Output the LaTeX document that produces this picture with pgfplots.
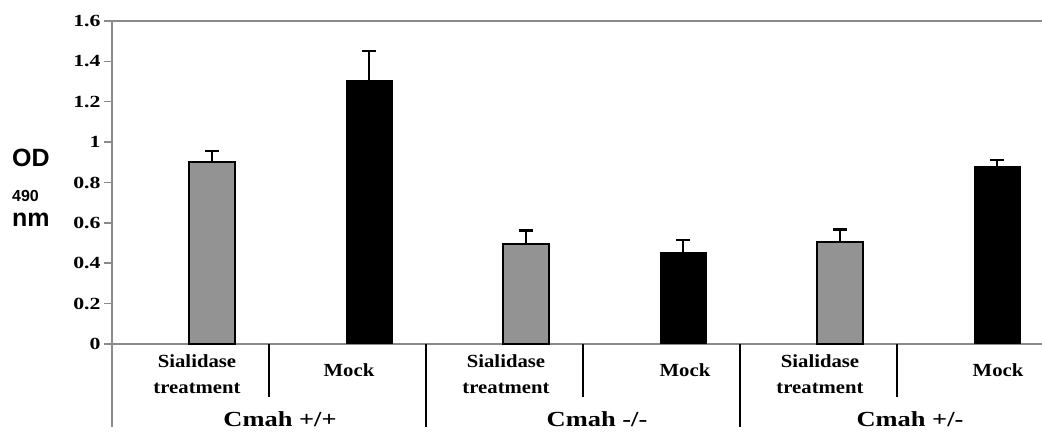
\documentclass[border=0pt]{standalone}
\usepackage{pgfplots}
\pgfplotsset{compat=1.18}
\usepackage{fontspec}
\setmainfont{Liberation Serif}
\newfontfamily\tickfam[FakeStretch=1.28]{Liberation Serif Bold}
\newfontfamily\catfam[FakeStretch=1.12]{Liberation Serif Bold}
\newfontfamily\grpfam[FakeStretch=1.23]{Liberation Serif Bold}
\newfontfamily\sansbold{Liberation Sans Bold}
\definecolor{bargray}{RGB}{147,147,147}
\definecolor{axisgray}{RGB}{138,138,138}

\pgfplotstableread{
x y e
0.137 0.900 0.055
2.137 0.495 0.066
4.137 0.506 0.062
}\graydata
\pgfplotstableread{
x y e
1.137 1.307 0.145
3.137 0.454 0.061
5.137 0.878 0.033
}\blackdata

\begin{document}
\begin{tikzpicture}[x=1bp,y=1bp]
\begin{axis}[
  at={(112bp,96bp)}, anchor=south west,
  scale only axis, width=942bp, height=323bp,
  xmin=-0.5, xmax=5.5, ymin=0, ymax=1.6,
  axis lines*=left,
  axis line style={draw=axisgray, line width=2.2bp},
  xtick=\empty,
  ytick={0,0.2,0.4,0.6,0.8,1,1.2,1.4,1.6},
  tick align=outside, major tick length=8bp,
  ytick style={draw=axisgray, line width=1.5bp},
  yticklabel style={font=\tickfam\fontsize{17bp}{20bp}\selectfont, /pgf/number format/assume math mode=true, /pgf/number format/fixed},
  clip=false,
]
\addplot[ybar, bar width=0.293, bar shift=0pt, fill=bargray, draw=black, line width=2.2bp,
  error bars/.cd, y dir=plus, y explicit,
  error bar style={black, line width=2.5bp},
  error mark options={rotate=90, black, mark size=7bp, line width=2.5bp}]
  table[x=x, y=y, y error=e] {\graydata};
\addplot[ybar, bar width=0.293, bar shift=0pt, fill=black, draw=black, line width=1bp,
  error bars/.cd, y dir=plus, y explicit,
  error bar style={black, line width=2.5bp},
  error mark options={rotate=90, black, mark size=7bp, line width=2.5bp}]
  table[x=x, y=y, y error=e] {\blackdata};
\end{axis}
% frame extensions
\draw[axisgray, line width=2.2bp] (112,419) -- (1042,419);
\draw[axisgray, line width=2.2bp] (112,96) -- (112,13);
% dividers
\foreach \xx in {269,583,897} \draw[black, line width=1.1bp] (\xx,96) -- (\xx,43);
\foreach \xx in {426,740} \draw[black, line width=1.1bp] (\xx,96) -- (\xx,13);
% category labels
\begin{scope}[every node/.style={font=\catfam\fontsize{18.5bp}{22bp}\selectfont, inner sep=0pt, anchor=base}]
\node at (197,72) {Sialidase};
\node at (197,46) {treatment};
\node at (349,63) {Mock};
\node at (506,72) {Sialidase};
\node at (506,46) {treatment};
\node at (685,63) {Mock};
\node at (820,72) {Sialidase};
\node at (820,46) {treatment};
\node at (998,63) {Mock};
\end{scope}
\begin{scope}[every node/.style={font=\grpfam\fontsize{21.5bp}{24bp}\selectfont, inner sep=0pt, anchor=base}]
\node at (280,13) {Cmah +/+};
\node at (597,13) {Cmah -/-};
\node at (910,13) {Cmah +/-};
\end{scope}
% y label
\node[font=\sansbold\fontsize{25bp}{28bp}\selectfont, inner sep=0pt, anchor=base west] at (12,273) {OD};
\node[font=\sansbold\fontsize{16bp}{18bp}\selectfont, inner sep=0pt, anchor=base west] at (12,238) {490};
\node[font=\sansbold\fontsize{25bp}{28bp}\selectfont, inner sep=0pt, anchor=base west] at (12,213) {nm};
\pgfresetboundingbox
\path (0,0) rectangle (1042,440);
\end{tikzpicture}
\end{document}
